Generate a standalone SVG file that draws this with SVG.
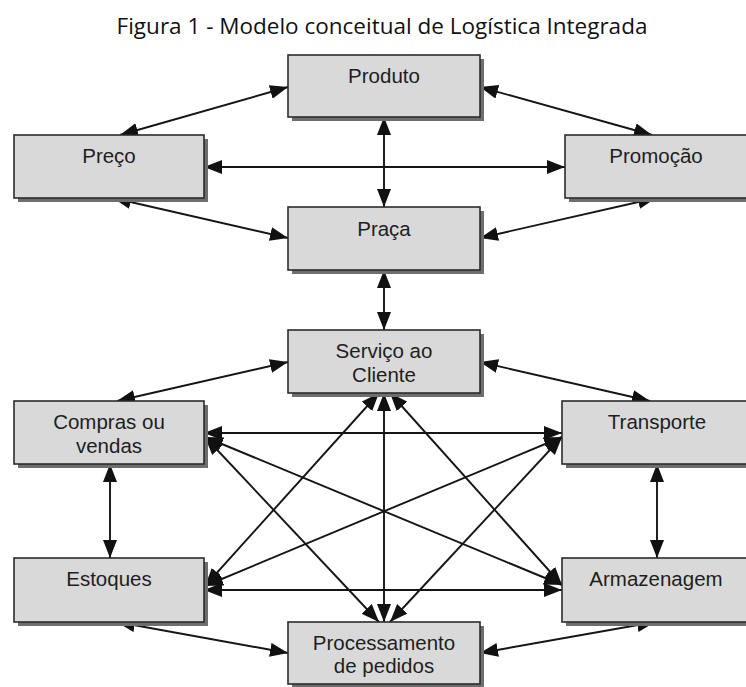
<svg xmlns="http://www.w3.org/2000/svg" width="746" height="687" viewBox="0 0 746 687">
<defs>
<marker id="ah" markerUnits="userSpaceOnUse" markerWidth="19" markerHeight="15" refX="18" refY="7" orient="auto-start-reverse" viewBox="0 0 19 15">
<path d="M0,0 L18,7 L0,14 z" fill="#111"/>
</marker>
<filter id="sh" x="-5%" y="-5%" width="115%" height="120%"><feGaussianBlur stdDeviation="0.7"/></filter>
</defs>
<style>
.shadow{fill:#6e6e6e;filter:url(#sh)}
.box{fill:#d9d9d9;stroke:#2b2b2b;stroke-width:1.6}
.lbl{font-family:"Liberation Sans",Arial,sans-serif;font-size:20.5px;fill:#1e1e1e;text-anchor:middle}
.title{font-family:"Open Sans","Liberation Sans",sans-serif;font-size:22.5px;fill:#111;text-anchor:middle}
#edges line{stroke:#151515;stroke-width:1.9;marker-start:url(#ah);marker-end:url(#ah)}
</style>
<rect width="746" height="687" fill="#fff"/>
<text class="title" x="382" y="34">Figura 1 - Modelo conceitual de Logística Integrada</text>

<g id="edges">
<line x1="288" y1="87" x2="120" y2="135"/>
<line x1="480" y1="87" x2="652" y2="135"/>
<line x1="384" y1="117" x2="384" y2="207"/>
<line x1="204" y1="167" x2="565" y2="167"/>
<line x1="113" y1="198" x2="288" y2="238"/>
<line x1="656" y1="198" x2="480" y2="238"/>
<line x1="384" y1="270" x2="384" y2="330"/>
<line x1="288" y1="362" x2="117" y2="401"/>
<line x1="480" y1="362" x2="650" y2="401"/>
<line x1="204" y1="433" x2="562" y2="433"/>
<line x1="110" y1="464" x2="110" y2="558"/>
<line x1="657" y1="464" x2="657" y2="558"/>
<line x1="204" y1="590" x2="562" y2="590"/>
<line x1="117" y1="622" x2="288" y2="653"/>
<line x1="655" y1="622" x2="480" y2="653"/>
<line x1="384" y1="393" x2="384" y2="622"/>
<line x1="205" y1="437" x2="562" y2="585"/>
<line x1="205" y1="437" x2="379" y2="622"/>
<line x1="562" y1="437" x2="205" y2="586"/>
<line x1="562" y1="437" x2="390" y2="622"/>
<line x1="379" y1="393" x2="205" y2="586"/>
<line x1="390" y1="393" x2="562" y2="585"/>
</g>

<g id="produto"><rect class="shadow" x="292" y="59" width="192" height="62"/><rect class="box" x="288" y="55" width="192" height="62"/><text class="lbl" x="384" y="83">Produto</text></g>
<g id="preco"><rect class="shadow" x="18" y="139" width="190" height="63"/><rect class="box" x="14" y="135" width="190" height="63"/><text class="lbl" x="109" y="163">Preço</text></g>
<g id="promocao"><rect class="shadow" x="569" y="139" width="192" height="63"/><rect class="box" x="565" y="135" width="192" height="63"/><text class="lbl" x="656" y="163">Promoção</text></g>
<g id="praca"><rect class="shadow" x="292" y="211" width="192" height="63"/><rect class="box" x="288" y="207" width="192" height="63"/><text class="lbl" x="384" y="236">Praça</text></g>
<g id="servico"><rect class="shadow" x="292" y="334" width="192" height="63"/><rect class="box" x="288" y="330" width="192" height="63"/><text class="lbl" x="384" y="358">Serviço ao</text><text class="lbl" x="384" y="382">Cliente</text></g>
<g id="compras"><rect class="shadow" x="18" y="405" width="190" height="63"/><rect class="box" x="14" y="401" width="190" height="63"/><text class="lbl" x="109" y="429">Compras ou</text><text class="lbl" x="109" y="453">vendas</text></g>
<g id="transporte"><rect class="shadow" x="566" y="405" width="192" height="63"/><rect class="box" x="562" y="401" width="192" height="63"/><text class="lbl" x="657" y="429">Transporte</text></g>
<g id="estoques"><rect class="shadow" x="18" y="562" width="190" height="64"/><rect class="box" x="14" y="558" width="190" height="64"/><text class="lbl" x="109" y="586">Estoques</text></g>
<g id="armazenagem"><rect class="shadow" x="566" y="562" width="192" height="64"/><rect class="box" x="562" y="558" width="192" height="64"/><text class="lbl" x="656" y="586">Armazenagem</text></g>
<g id="processamento"><rect class="shadow" x="292" y="626" width="192" height="62"/><rect class="box" x="288" y="622" width="192" height="62"/><text class="lbl" x="384" y="650">Processamento</text><text class="lbl" x="384" y="673">de pedidos</text></g>
</svg>
